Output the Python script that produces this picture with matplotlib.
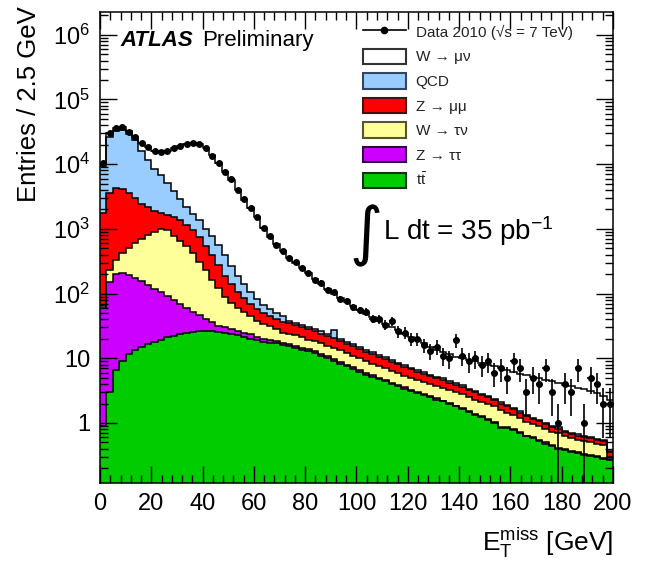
import numpy as np
import matplotlib
matplotlib.use('Agg')
import matplotlib.pyplot as plt
from matplotlib.patches import Patch
from matplotlib.lines import Line2D
from matplotlib.ticker import LogLocator, FuncFormatter, MultipleLocator, NullFormatter

plt.rcParams['font.family'] = ['Liberation Sans', 'DejaVu Sans']
plt.rcParams['mathtext.fontset'] = 'custom'
plt.rcParams['mathtext.rm'] = 'Liberation Sans'
plt.rcParams['mathtext.it'] = 'Liberation Sans:italic'
plt.rcParams['mathtext.bf'] = 'Liberation Sans:bold'

# ---------------- data (80 bins of 2.5 GeV, 0-200 GeV) ----------------
bin_width = 2.5
x_min, x_max = 0.0, 200.0

# cumulative stack tops, bottom (ttbar) to top (W->munu)
top_ttbar = [0.9, 3.0, 6.5, 9.0, 11.5, 13.5, 15.0, 16.5, 18.0, 19.5,
             21.0, 22.0, 23.5, 24.5, 25.5, 26.5, 26.5, 26.0, 25.5, 25.0,
             24.0, 23.0, 21.5, 20.0, 19.0, 18.0, 17.5, 17.0, 16.0, 15.5,
             14.5, 13.5, 12.8, 12.0, 11.0, 10.0, 9.0, 8.2, 7.5, 6.9,
             6.2, 5.6, 5.2, 4.7, 4.4, 4.0, 3.7, 3.4, 3.1, 2.9,
             2.7, 2.5, 2.3, 2.15, 1.95, 1.8, 1.65, 1.5, 1.35, 1.25,
             1.1, 1.0, 0.85, 0.85, 0.78, 0.7, 0.62, 0.58, 0.52, 0.48,
             0.44, 0.4, 0.38, 0.36, 0.34, 0.32, 0.31, 0.3, 0.28, 0.27]
top_ztautau = [60, 150, 200, 210, 195, 175, 155, 135, 118, 105,
               92, 80, 70, 60, 52, 46, 40, 36, 32, 30,
               28, 26.5, 25, 23.5, 21.5, 20, 19.3, 18.6, 17.5, 16.8,
               15.7, 14.6, 13.8, 12.9, 11.8, 10.7, 9.6, 8.7, 8.0, 7.3,
               6.6, 5.9, 5.5, 4.95, 4.6, 4.2, 3.85, 3.55, 3.25, 3.0,
               2.8, 2.6, 2.4, 2.22, 2.02, 1.86, 1.7, 1.55, 1.4, 1.29,
               1.14, 1.03, 0.88, 0.87, 0.8, 0.72, 0.64, 0.6, 0.54, 0.5,
               0.45, 0.41, 0.39, 0.37, 0.35, 0.33, 0.32, 0.31, 0.29, 0.28]
top_wtaunu = [65, 230, 330, 430, 500, 600, 700, 800, 900, 980,
              960, 780, 660, 540, 420, 310, 230, 165, 120, 90,
              72, 60, 52, 45, 38, 34, 31, 28, 25, 24,
              22.5, 21, 19.5, 18.5, 17, 15.5, 14.5, 13.2, 12, 11,
              10, 9.0, 8.3, 7.6, 7.0, 6.4, 5.9, 5.4, 5.0, 4.6,
              4.3, 4.0, 3.7, 3.5, 3.2, 3.0, 2.8, 2.5, 2.3, 2.1,
              1.95, 1.8, 1.6, 1.45, 1.35, 1.2, 1.05, 0.95, 0.9, 0.8,
              0.72, 0.7, 0.62, 0.58, 0.55, 0.52, 0.5, 0.47, 0.45, 0.3]
top_zmumu = [1780, 3600, 4300, 4100, 3600, 3000, 2400, 2150, 1900, 1750,
             1650, 1500, 1350, 1150, 950, 760, 540, 400, 280, 190,
             140, 105, 85, 68, 57, 50, 45, 41, 37, 35,
             33, 30.5, 28, 26, 24, 22, 20.5, 18.5, 16.8, 15.4,
             14, 12.6, 11.6, 10.6, 9.7, 8.8, 8.1, 7.4, 6.8, 6.2,
             5.7, 5.3, 4.9, 4.6, 4.2, 3.9, 3.6, 3.2, 3.0, 2.7,
             2.5, 2.25, 2.0, 1.8, 1.65, 1.45, 1.27, 1.15, 1.07, 0.95,
             0.86, 0.82, 0.73, 0.68, 0.64, 0.61, 0.58, 0.55, 0.52, 0.36]
top_qcd = [9500, 26000, 33000, 34000, 29000, 24000, 16000, 11500, 8500, 6800,
           5200, 3800, 2900, 2200, 1700, 1350, 1000, 780, 560, 400,
           270, 190, 140, 105, 82, 66, 57, 50, 45, 38,
           35.5, 33, 30, 28, 26, 23.5, 27, 20, 18, 16.5,
           15, 13.5, 12.4, 11.3, 10.4, 9.4, 8.6, 7.9, 7.2, 6.6,
           6.1, 5.6, 5.2, 4.9, 4.45, 4.1, 3.8, 3.4, 3.15, 2.85,
           2.6, 2.35, 2.1, 1.9, 1.72, 1.52, 1.33, 1.2, 1.12, 1.0,
           0.9, 0.86, 0.76, 0.71, 0.67, 0.64, 0.6, 0.57, 0.54, 0.37]
top_wmunu = [10500, 30000, 36000, 37500, 32000, 26300, 21000, 18500, 16000, 15500,
             16000, 17800, 19000, 20500, 21000, 20500, 17800, 13800, 10400, 7600,
             5700, 4000, 2800, 2100, 1500, 1050, 760, 580, 450, 360,
             300, 250, 205, 170, 142, 118, 100, 86, 74, 64,
             56, 49, 43, 38, 34, 30, 27, 24, 21, 19,
             17, 15, 13.5, 12.5, 11.5, 10.5, 10, 9.5, 9, 8.5,
             8, 7.5, 7, 6.6, 6.2, 5.8, 5.5, 5.2, 4.9, 4.6,
             4.4, 4.1, 3.9, 3.7, 3.5, 3.3, 3.1, 2.9, 2.6, 2.3]

data_2010 = [10400, 30500, 36500, 37000, 31800, 26500, 21200, 18300, 15800, 15400,
             16100, 17700, 19200, 20400, 21100, 20300, 17900, 13600, 10500, 7500,
             5800, 3950, 2850, 2080, 1520, 1040, 780, 570, 460, 350,
             310, 245, 210, 165, 148, 115, 104, 82, 77, 61,
             55, 52, 41, 40, 33, 38, 26, 25, 20, 20,
             16, 13, 15, 11, 10, 19, 11, 9, 10, 8,
             9, 6, 7, 5, 9, 7, 3, 5, 4, 7,
             3, 1, 4, 3, 7, 1, 5, 4, 2, 2]

labels = ['Data 2010 (√s = 7 TeV)', 'W → μν', 'QCD',
          'Z → μμ', 'W → τν', 'Z → ττ', r't$\bar{\mathrm{t}}$']
colors = {'wmunu': '#ffffff', 'qcd': '#99ccff', 'zmumu': '#ff0000',
          'wtaunu': '#ffff99', 'ztautau': '#cc00ff', 'ttbar': '#00cc00'}

# ---------------- figure ----------------
fig = plt.figure(figsize=(6.46, 5.68), dpi=100)
ax = fig.add_axes([0.1548, 0.1496, 0.7941, 0.8293])

edges = np.arange(x_min, x_max + bin_width / 2, bin_width)
centers = edges[:-1] + bin_width / 2

stack = [(np.array(top_ttbar), colors['ttbar']),
         (np.array(top_ztautau), colors['ztautau']),
         (np.array(top_wtaunu), colors['wtaunu']),
         (np.array(top_zmumu), colors['zmumu']),
         (np.array(top_qcd), colors['qcd']),
         (np.array(top_wmunu), colors['wmunu'])]

bottom = np.full(len(centers), 1e-3)
for top, col in stack:
    ax.stairs(top, edges, baseline=bottom, fill=True, color=col, lw=0, zorder=1)
    bottom = top
for top, col in stack:
    ax.stairs(top, edges, baseline=None, color='black', lw=1.1, zorder=2)

d = np.array(data_2010, dtype=float)
err = np.sqrt(d)
lo = np.minimum(err, d * 0.9999)
ax.errorbar(centers, d, xerr=bin_width / 2, yerr=[lo, err], fmt='o', ms=4.0,
            color='black', ecolor='black', elinewidth=1.2, capsize=0, zorder=5)

ax.set_yscale('log')
ax.set_xlim(x_min, x_max)
ax.set_ylim(0.118, 2.25e6)

ax.xaxis.set_major_locator(MultipleLocator(20))
ax.xaxis.set_minor_locator(MultipleLocator(4))
ax.yaxis.set_major_locator(LogLocator(base=10, numticks=20))
ax.yaxis.set_minor_locator(LogLocator(base=10, subs=np.arange(2, 10) * 1.0, numticks=20))
ax.yaxis.set_minor_formatter(NullFormatter())


def yfmt(v, pos):
    n = int(round(np.log10(v)))
    if n == 0:
        return '1'
    if n == 1:
        return '10'
    return r'$10^{%d}$' % n


ax.yaxis.set_major_formatter(FuncFormatter(yfmt))
ax.tick_params(which='both', direction='in', top=True, right=True, width=1.0)
ax.tick_params(which='major', length=12, labelsize=17, pad=7)
ax.tick_params(which='minor', length=6)
for s in ax.spines.values():
    s.set_linewidth(1.1)

ax.set_ylabel('Entries / 2.5 GeV', fontsize=18.5, loc='top')
ax.yaxis.set_label_coords(-0.115, 1.012)
ax.set_xlabel(r'$\mathrm{E}_{\mathrm{T}}^{\mathrm{miss}}$ [GeV]', fontsize=19, loc='right')
ax.xaxis.set_label_coords(1.0, -0.092)

ax.text(0.039, 0.94, 'ATLAS', fontsize=16, fontweight='bold', style='italic',
        va='center', ha='left', transform=ax.transAxes)
ax.text(0.2, 0.94, 'Preliminary', fontsize=16, va='center', ha='left',
        transform=ax.transAxes)

fig.text(366 / 646, 1 - 236 / 568, '∫', fontsize=46, family=['DejaVu Sans'],
         ha='center', va='center')
fig.text(383 / 646, 1 - 231 / 568, r'L dt = 35 pb$^{\mathrm{-1}}$', fontsize=20,
         ha='left', va='center')

handles = [Line2D([0], [0], color='black', marker='o', ms=4.5, lw=1.2),
           Patch(fc=colors['wmunu'], ec='#333333', lw=1.5),
           Patch(fc=colors['qcd'], ec='#334466', lw=1.5),
           Patch(fc=colors['zmumu'], ec='#441111', lw=1.5),
           Patch(fc=colors['wtaunu'], ec='#555533', lw=1.5),
           Patch(fc=colors['ztautau'], ec='#330044', lw=1.5),
           Patch(fc=colors['ttbar'], ec='#113311', lw=1.5)]
leg = fig.legend(handles, labels, loc='upper left',
                 bbox_to_anchor=(363 / 646, 1 - 24 / 568), frameon=False,
                 fontsize=11, handlelength=2.8, handleheight=1.18,
                 labelspacing=0.57, handletextpad=0.65, borderpad=0,
                 borderaxespad=0)
for t in leg.get_texts():
    t.set_color('#222222')

fig.savefig('out.png', dpi=100)
